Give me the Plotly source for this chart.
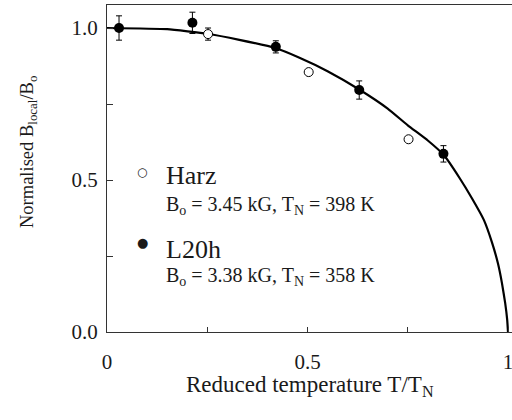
import plotly.graph_objects as go

# Data
harz_t = [0.252, 0.503, 0.752]
harz_b = [0.980, 0.855, 0.634]
harz_err = [0.02, 0.0, 0.0]

l20h_t = [0.030, 0.213, 0.421, 0.629, 0.839]
l20h_b = [1.000, 1.017, 0.938, 0.796, 0.586]
l20h_err = [0.040, 0.035, 0.020, 0.030, 0.027]

curve_t = [0.0, 0.15, 0.25, 0.33, 0.42, 0.48, 0.55, 0.63, 0.70, 0.75, 0.80, 0.84,
           0.88, 0.91, 0.94, 0.96, 0.975, 0.985, 0.993, 0.998, 1.0]
curve_b = [1.0, 0.996, 0.981, 0.961, 0.934, 0.902, 0.858, 0.797, 0.735, 0.680, 0.630, 0.582,
           0.505, 0.440, 0.368, 0.295, 0.225, 0.160, 0.095, 0.040, 0.0]

x_tickvals = [0, 0.5, 1]
x_ticktext = ["0", "0.5", "1"]
x_minor = [0.25, 0.75]
y_tickvals = [0, 0.5, 1.0]
y_ticktext = ["0.0", "0.5", "1.0"]
y_minor = [0.25, 0.75]

FONT = "Liberation Serif"
INK = "#1a1a1a"

fig = go.Figure()
fig.add_trace(go.Scatter(x=curve_t, y=curve_b, mode="lines",
                         line=dict(color="black", width=2.2, shape="spline", smoothing=0.4),
                         hoverinfo="skip"))
fig.add_trace(go.Scatter(x=l20h_t, y=l20h_b, mode="markers",
                         marker=dict(color="black", size=10),
                         error_y=dict(type="data", array=l20h_err, color="black",
                                      thickness=1, width=3)))
fig.add_trace(go.Scatter(x=harz_t, y=harz_b, mode="markers",
                         marker=dict(color="white", size=9, line=dict(color="black", width=1)),
                         error_y=dict(type="data", array=harz_err, color="black",
                                      thickness=1, width=3)))

L, T = 107, 5
W, H = 512, 420
PW, PH = W - L, 332 - T

def px(x):
    return (x - L) / PW

def py(y):
    return (332 - y) / PH

ann = []
def add(text, x, y, size, xanchor="left", yanchor="middle", family=FONT, angle=0):
    ann.append(dict(text=text, x=px(x), y=py(y), xref="paper", yref="paper",
                    xanchor=xanchor, yanchor=yanchor, showarrow=False, textangle=angle,
                    font=dict(family=family, size=size, color=INK)))

add("○", 142, 172, 12, xanchor="center", family="DejaVu Sans")
add("Harz", 164, 175, 26)
add("B<sub>o</sub> = 3.45 kG, T<sub>N</sub> = 398 K", 164, 205, 20)
add("●", 142, 242, 13, xanchor="center", family="DejaVu Sans")
add("L20h", 164, 249, 26)
add("B<sub>o</sub> = 3.38 kG, T<sub>N</sub> = 358 K", 164, 276, 20)
add("Reduced temperature T/T<sub>N</sub>", 310, 386, 23, xanchor="center")
add("Normalised B<sub>local</sub>/B<sub>o</sub>", 28, 152, 18.5, xanchor="center", angle=-90)

fig.update_layout(
    width=W, height=H,
    margin=dict(l=L, r=0, t=T, b=H - 332),
    plot_bgcolor="white", paper_bgcolor="white",
    showlegend=False,
    annotations=ann,
    font=dict(family=FONT, size=19, color=INK),
)
fig.update_xaxes(range=[0, PW / 401], tickvals=x_tickvals, ticktext=x_ticktext,
                 ticks="inside", ticklen=5, tickcolor="#333", tickwidth=1,
                 minor=dict(tickvals=x_minor, ticks="inside", ticklen=5,
                            tickcolor="#333", tickwidth=1, showgrid=False),
                 showline=True, linecolor="#333", linewidth=1, mirror=True,
                 showgrid=False, zeroline=False, ticklabelstandoff=11,
                 ticklabeloverflow="allow",
                 tickfont=dict(family=FONT, size=21, color=INK))
fig.update_yaxes(range=[0, PH / 304], tickvals=y_tickvals, ticktext=y_ticktext,
                 ticks="inside", ticklen=6, tickcolor="#333", tickwidth=1,
                 minor=dict(tickvals=y_minor, ticks="inside", ticklen=6,
                            tickcolor="#333", tickwidth=1, showgrid=False),
                 showline=True, linecolor="#333", linewidth=1,
                 showgrid=False, zeroline=False, ticklabelstandoff=4,
                 tickfont=dict(family=FONT, size=21, color=INK))

fig.write_html("out.html")
